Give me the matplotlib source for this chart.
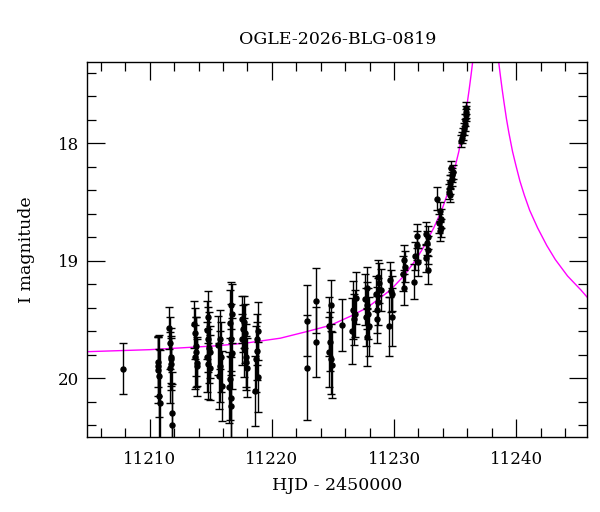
import matplotlib
matplotlib.use('Agg')
import matplotlib.pyplot as plt
from matplotlib.ticker import MultipleLocator

plt.rcParams['font.family'] = ['DejaVu Serif']

# photometry: HJD-2450000, I mag, error
hjd = [11207.82,
       11210.65, 11210.70, 11210.75, 11210.80, 11210.85, 11210.72,
       11211.62, 11211.66, 11211.72, 11211.78, 11211.70, 11211.75, 11211.80, 11211.84,
       11213.66, 11213.72, 11213.78, 11213.70, 11213.85, 11213.90, 11213.80,
       11214.80, 11214.68, 11214.75, 11214.85, 11214.70, 11214.90, 11214.78, 11214.95,
       11215.75, 11215.60, 11215.85, 11215.78, 11215.90, 11215.70,
       11216.65, 11216.72, 11216.60, 11216.68, 11216.78, 11216.55, 11216.62, 11216.70, 11216.50,
       11217.55, 11217.70, 11217.80, 11217.60, 11217.75, 11217.90, 11217.95, 11217.85, 11217.65,
       11218.85, 11218.80, 11218.75, 11218.70, 11218.88, 11218.66,
       11222.84, 11222.90, 11223.64, 11223.60,
       11224.85, 11224.70, 11224.80, 11224.65, 11224.88, 11224.92,
       11225.71,
       11226.85, 11226.65, 11226.72, 11226.60, 11226.80,
       11227.75, 11227.65, 11227.80, 11227.85, 11227.72, 11227.95, 11227.80,
       11228.70, 11228.78, 11228.90, 11228.55, 11228.70, 11228.62, 11228.58,
       11229.70, 11229.75, 11229.55, 11229.87, 11229.87,
       11230.80, 11230.90, 11230.75, 11230.85,
       11231.90, 11231.85, 11231.75, 11231.95, 11231.60,
       11232.60, 11232.75, 11232.68, 11232.80, 11232.60, 11232.82,
       11233.55, 11233.75, 11233.82, 11233.65, 11233.88, 11233.78,
       11234.65, 11234.72, 11234.60, 11234.55, 11234.50, 11234.82, 11234.75, 11234.62,
       11235.90, 11235.85, 11235.92, 11235.78, 11235.82, 11235.70, 11235.62, 11235.55, 11235.50]
mag = [19.92,
       19.86, 19.93, 19.98, 20.15, 20.21, 19.90,
       19.57, 19.70, 19.82, 19.84, 19.91, 19.88, 20.30, 20.40,
       19.54, 19.62, 19.73, 19.82, 19.90, 19.87, 19.78,
       19.48, 19.59, 19.67, 19.74, 19.82, 19.91, 19.88, 19.78,
       19.67, 19.72, 19.82, 19.90, 20.07, 19.98,
       19.38, 19.45, 19.53, 19.67, 19.79, 20.01, 20.17, 20.24, 20.08,
       19.50, 19.52, 19.62, 19.67, 19.74, 19.82, 19.91, 19.86, 19.58,
       19.60, 19.67, 19.77, 19.84, 19.99, 20.11,
       19.51, 19.91, 19.34, 19.69,
       19.38, 19.56, 19.69, 19.78, 19.84, 19.89,
       19.55,
       19.32, 19.42, 19.50, 19.60, 19.45,
       19.23, 19.33, 19.38, 19.45, 19.48, 19.56, 19.65,
       19.14, 19.19, 19.25, 19.28, 19.35, 19.42, 19.50,
       19.16, 19.26, 19.56, 19.48, 19.28,
       18.99, 19.05, 19.11, 19.23,
       18.79, 18.87, 18.96, 19.01, 19.18,
       18.77, 18.80, 18.85, 18.91, 18.98, 19.08,
       18.47, 18.58, 18.64, 18.68, 18.72, 18.75,
       18.21, 18.27, 18.33, 18.37, 18.41, 18.24, 18.30, 18.44,
       17.70, 17.73, 17.76, 17.80, 17.84, 17.88, 17.92, 17.95, 17.98]
err = [0.22,
       0.22, 0.28, 0.35, 0.40, 0.45, 0.25,
       0.18, 0.22, 0.25, 0.20, 0.30, 0.22, 0.35, 0.35,
       0.20, 0.22, 0.25, 0.27, 0.25, 0.20, 0.30,
       0.22, 0.25, 0.28, 0.30, 0.30, 0.28, 0.30, 0.22,
       0.25, 0.25, 0.30, 0.30, 0.30, 0.28,
       0.20, 0.25, 0.28, 0.30, 0.30, 0.35, 0.35, 0.30, 0.30,
       0.20, 0.22, 0.25, 0.22, 0.25, 0.28, 0.25, 0.22, 0.20,
       0.25, 0.22, 0.25, 0.28, 0.30, 0.30,
       0.30, 0.45, 0.28, 0.30,
       0.22, 0.25, 0.25, 0.30, 0.30, 0.28,
       0.22,
       0.22, 0.25, 0.22, 0.28, 0.20,
       0.18, 0.22, 0.20, 0.22, 0.25, 0.25, 0.25,
       0.15, 0.17, 0.18, 0.15, 0.20, 0.20, 0.20,
       0.15, 0.18, 0.25, 0.25, 0.15,
       0.12, 0.13, 0.15, 0.15,
       0.10, 0.12, 0.12, 0.12, 0.15,
       0.10, 0.10, 0.10, 0.12, 0.12, 0.12,
       0.10, 0.08, 0.08, 0.08, 0.08, 0.08,
       0.06, 0.06, 0.06, 0.06, 0.06, 0.06, 0.06, 0.06,
       0.05, 0.05, 0.05, 0.05, 0.05, 0.05, 0.05, 0.05, 0.05]

# model curve
model_t = [11204.9, 11210.0, 11215.5, 11218.0, 11220.7, 11223.0, 11224.8, 11226.5,
           11227.8, 11229.2, 11229.7, 11230.8, 11231.8, 11232.5, 11233.25, 11233.9,
           11234.34, 11234.7, 11235.02, 11235.3, 11235.6, 11235.8, 11236.0, 11236.15,
           11236.3, 11236.5, 11236.6,
           11238.4, 11238.5, 11238.7, 11238.85, 11239.0, 11239.2, 11239.4, 11239.7,
           11239.98, 11240.3, 11240.66, 11241.1, 11241.75, 11242.5, 11243.2, 11244.2,
           11245.3, 11245.8]
model_mag = [19.775, 19.758, 19.725, 19.70, 19.66, 19.60, 19.55, 19.47,
             19.40, 19.29, 19.25, 19.13, 18.99, 18.87, 18.72, 18.57,
             18.44, 18.32, 18.19, 18.07, 17.91, 17.79, 17.65, 17.54,
             17.42, 17.25, 17.14,
             17.14, 17.25, 17.42, 17.54, 17.65, 17.79, 17.91, 18.07,
             18.19, 18.32, 18.44, 18.57, 18.72, 18.87, 18.99, 19.13,
             19.25, 19.31]

fig = plt.figure(figsize=(6.0, 5.12), dpi=100)
ax = fig.add_axes([0.1455, 0.147, 0.833, 0.731])

ax.plot(model_t, model_mag, color='#ff00ff', lw=1.0, zorder=1)
ax.errorbar(hjd, mag, yerr=err, fmt='o', color='black', ms=3.6, elinewidth=1.0,
            capsize=3.2, capthick=1.0, zorder=2)

ax.set_xlim(11204.9, 11245.8)
ax.set_ylim(20.5, 17.31)

ax.xaxis.set_major_locator(MultipleLocator(10))
ax.xaxis.set_minor_locator(MultipleLocator(2))
ax.yaxis.set_major_locator(MultipleLocator(1))
ax.yaxis.set_minor_locator(MultipleLocator(0.2))
ax.tick_params(which='both', direction='in', top=True, right=True, width=0.9, labelsize=12)
ax.tick_params(axis='x', which='both', pad=10)
ax.tick_params(axis='y', which='both', pad=6)
ax.tick_params(which='major', length=13)
ax.tick_params(which='minor', length=6.5)
for s in ax.spines.values():
    s.set_linewidth(1.0)

ax.set_title('OGLE-2026-BLG-0819', fontsize=12.5, pad=13)
ax.set_xlabel('HJD - 2450000', fontsize=12.5, labelpad=7)
ax.set_ylabel('I magnitude', fontsize=12.5, labelpad=16)

fig.savefig('out.png', dpi=100)
